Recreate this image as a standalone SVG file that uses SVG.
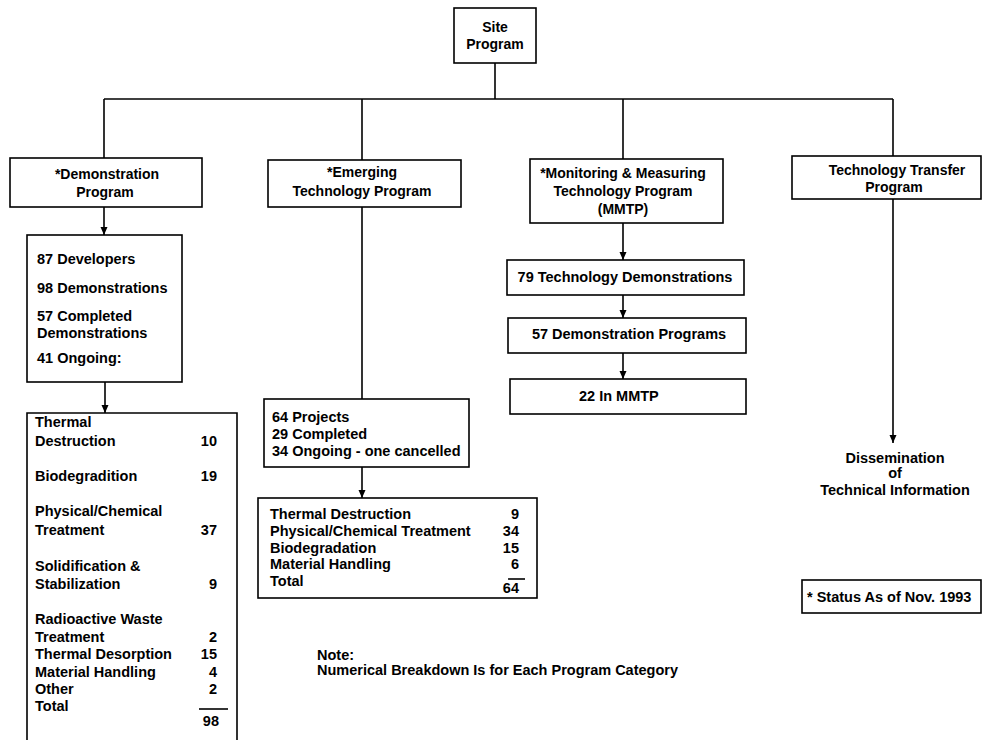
<svg xmlns="http://www.w3.org/2000/svg" width="982" height="740" viewBox="0 0 982 740">
<style>
  .box { fill: #ffffff; stroke: #000000; stroke-width: 1.6; }
  .ln { fill: none; stroke: #000000; stroke-width: 1.6; }
  text { font-family: "Liberation Sans", Arial, Helvetica, sans-serif; font-weight: bold; font-size: 14px; fill: #000000; }
  .c { text-anchor: middle; }
  .r { text-anchor: end; }
  .t { font-size: 14.5px; }
</style>
<defs>
  <marker id="arr" viewBox="0 0 8 10" refX="8" refY="5" markerWidth="8" markerHeight="10" markerUnits="userSpaceOnUse" orient="auto">
    <path d="M0,1.5 L8,5 L0,8.5 Z" fill="#000000"/>
  </marker>
</defs>
<rect width="982" height="740" fill="#ffffff"/>

<g id="connectors">
  <line class="ln" x1="495" y1="63" x2="495" y2="99"/>
  <line class="ln" x1="104" y1="99" x2="893" y2="99"/>
  <line class="ln" x1="104" y1="99" x2="104" y2="158"/>
  <line class="ln" x1="362" y1="99" x2="362" y2="160"/>
  <line class="ln" x1="623" y1="99" x2="623" y2="159"/>
  <line class="ln" x1="893" y1="99" x2="893" y2="156"/>
  <line class="ln" x1="104" y1="207" x2="104" y2="235" marker-end="url(#arr)"/>
  <line class="ln" x1="105" y1="382" x2="105" y2="413" marker-end="url(#arr)"/>
  <line class="ln" x1="362" y1="207" x2="362" y2="399"/>
  <line class="ln" x1="362" y1="467" x2="362" y2="498" marker-end="url(#arr)"/>
  <line class="ln" x1="623" y1="223" x2="623" y2="260" marker-end="url(#arr)"/>
  <line class="ln" x1="623" y1="295" x2="623" y2="318" marker-end="url(#arr)"/>
  <line class="ln" x1="623" y1="353" x2="623" y2="379" marker-end="url(#arr)"/>
  <line class="ln" x1="893" y1="199" x2="893" y2="443" marker-end="url(#arr)"/>
</g>

<g id="site">
  <rect class="box" x="454" y="8" width="82" height="55"/>
  <text class="c" x="495" y="32">Site</text>
  <text class="c" x="495" y="49">Program</text>
</g>

<g id="demonstration">
  <rect class="box" x="10" y="158" width="192" height="49"/>
  <text class="c" x="107" y="179">*Demonstration</text>
  <text class="c" x="105" y="197">Program</text>
</g>

<g id="developers">
  <rect class="box" x="27" y="235" width="155" height="147"/>
  <text class="t" x="37" y="264">87 Developers</text>
  <text class="t" x="37" y="293">98 Demonstrations</text>
  <text class="t" x="37" y="321">57 Completed</text>
  <text class="t" x="37" y="338">Demonstrations</text>
  <text class="t" x="37" y="363">41 Ongoing:</text>
</g>

<g id="ongoing-list">
  <path class="ln" d="M27,742 L27,413 L237,413 L237,742"/>
  <text class="t" x="35" y="427">Thermal</text>
  <text class="t" x="35" y="446">Destruction</text>
  <text class="t r" x="217" y="446">10</text>
  <text class="t" x="35" y="481">Biodegradition</text>
  <text class="t r" x="217" y="481">19</text>
  <text class="t" x="35" y="516">Physical/Chemical</text>
  <text class="t" x="35" y="535">Treatment</text>
  <text class="t r" x="217" y="535">37</text>
  <text class="t" x="35" y="571">Solidification &amp;</text>
  <text class="t" x="35" y="589">Stabilization</text>
  <text class="t r" x="217" y="589">9</text>
  <text class="t" x="35" y="624">Radioactive Waste</text>
  <text class="t" x="35" y="642">Treatment</text>
  <text class="t r" x="217" y="642">2</text>
  <text class="t" x="35" y="659">Thermal Desorption</text>
  <text class="t r" x="217" y="659">15</text>
  <text class="t" x="35" y="677">Material Handling</text>
  <text class="t r" x="217" y="677">4</text>
  <text class="t" x="35" y="694">Other</text>
  <text class="t r" x="217" y="694">2</text>
  <text class="t" x="35" y="711">Total</text>
  <line class="ln" x1="199" y1="709" x2="228" y2="709"/>
  <text class="t r" x="219" y="726">98</text>
</g>

<g id="emerging">
  <rect class="box" x="268" y="160" width="193" height="47"/>
  <text class="c" x="362" y="177">*Emerging</text>
  <text class="c" x="362" y="196">Technology Program</text>
</g>

<g id="projects">
  <rect class="box" x="264" y="399" width="205" height="68"/>
  <text class="t" x="272" y="422">64 Projects</text>
  <text class="t" x="272" y="439">29 Completed</text>
  <text class="t" x="272" y="456">34 Ongoing - one cancelled</text>
</g>

<g id="emerging-breakdown">
  <rect class="box" x="258" y="498" width="279" height="100"/>
  <text class="t" x="270" y="519">Thermal Destruction</text>
  <text class="t r" x="519" y="519">9</text>
  <text class="t" x="270" y="536">Physical/Chemical Treatment</text>
  <text class="t r" x="519" y="536">34</text>
  <text class="t" x="270" y="553">Biodegradation</text>
  <text class="t r" x="519" y="553">15</text>
  <text class="t" x="270" y="569">Material Handling</text>
  <text class="t r" x="519" y="569">6</text>
  <text class="t" x="270" y="586">Total</text>
  <line class="ln" x1="508" y1="579" x2="525" y2="579"/>
  <text class="t r" x="519" y="593">64</text>
</g>

<g id="mmtp">
  <rect class="box" x="530" y="159" width="193" height="64"/>
  <text class="c" x="623" y="178">*Monitoring &amp; Measuring</text>
  <text class="c" x="623" y="196">Technology Program</text>
  <text class="c" x="623" y="214">(MMTP)</text>
</g>

<g id="tech-demos">
  <rect class="box" x="507" y="260" width="237" height="35"/>
  <text class="t c" x="625" y="282">79 Technology Demonstrations</text>
</g>

<g id="demo-programs">
  <rect class="box" x="508" y="318" width="238" height="35"/>
  <text class="t c" x="629" y="339">57 Demonstration Programs</text>
</g>

<g id="in-mmtp">
  <rect class="box" x="510" y="379" width="236" height="35"/>
  <text class="t" x="579" y="401">22  In MMTP</text>
</g>

<g id="tech-transfer">
  <rect class="box" x="792" y="156" width="189" height="43"/>
  <text class="c" x="897" y="175">Technology Transfer</text>
  <text class="c" x="894" y="192">Program</text>
</g>

<g id="dissemination">
  <text class="t c" x="895" y="463">Dissemination</text>
  <text class="t c" x="895" y="478">of</text>
  <text class="t c" x="895" y="495">Technical Information</text>
</g>

<g id="status">
  <rect class="box" x="802" y="580" width="179" height="33"/>
  <text class="t" x="807" y="602">* Status As of Nov. 1993</text>
</g>

<g id="note">
  <text class="t" x="317" y="660">Note:</text>
  <text class="t" x="317" y="675">Numerical Breakdown Is for Each Program Category</text>
</g>
</svg>
